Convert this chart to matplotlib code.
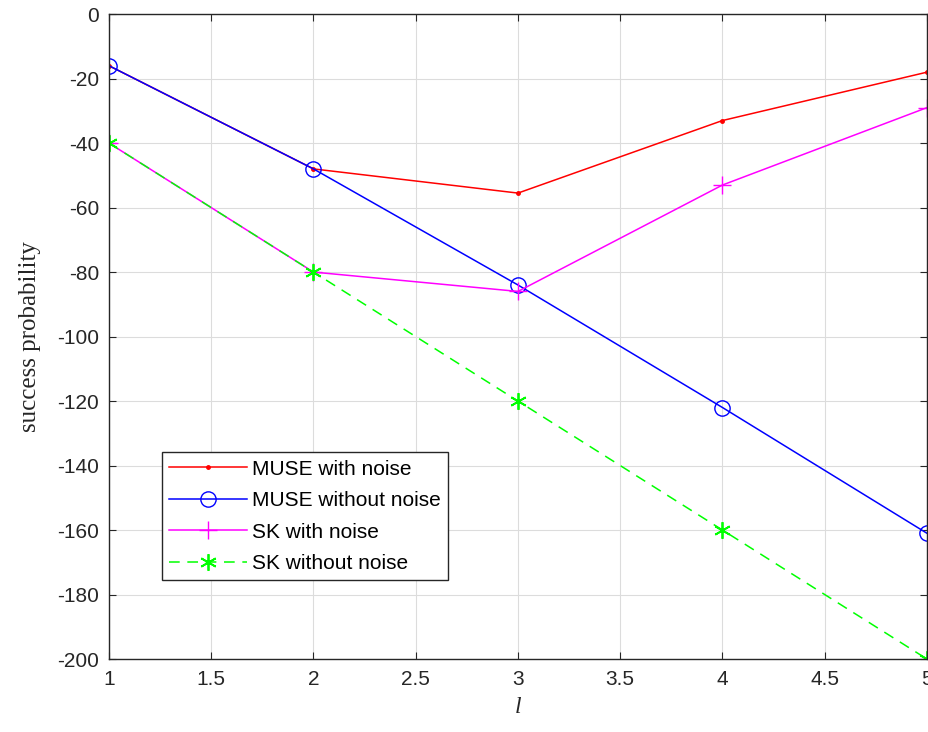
import matplotlib.pyplot as plt

# layer index and success probability (log scale values)
l_vals = [1, 2, 3, 4, 5]
muse_noise = [-16, -48, -55.5, -33, -18]
muse_clean = [-16, -48, -84, -122, -161]
sk_noise = [-40, -80, -86, -53, -29]
sk_clean = [-40, -80, -120, -160, -200]

plt.rcParams['font.family'] = ['Liberation Sans', 'DejaVu Sans']
plt.rcParams['axes.unicode_minus'] = False

fig = plt.figure(figsize=(9.29, 7.32), dpi=100)
ax = fig.add_axes([0.1173, 0.0997, 0.8805, 0.881])

ax.plot(l_vals, muse_noise, '-', color='#ff0000', lw=1.1, marker='.', ms=5,
        label='MUSE with noise')
ax.plot(l_vals, muse_clean, '-', color='#0000ff', lw=1.1, marker='o', ms=11,
        mfc='none', label='MUSE without noise')
ax.plot(l_vals, sk_noise, '-', color='#ff00ff', lw=1.1, marker='+', ms=13,
        label='SK with noise')
ax.plot(l_vals, sk_clean, '--', color='#00ff00', lw=1.1, marker=(6, 2, 0),
        ms=12, mew=1.3, dashes=(7, 5), label='SK without noise')

ax.set_xlim(1, 5)
ax.set_ylim(-200, 0)
ax.set_xticks([1, 1.5, 2, 2.5, 3, 3.5, 4, 4.5, 5])
ax.set_xticklabels(['1', '1.5', '2', '2.5', '3', '3.5', '4', '4.5', '5'])
ax.set_yticks(range(-200, 1, 20))
ax.grid(True, color='#dcdcdc', lw=0.8)
ax.set_axisbelow(True)
ax.tick_params(direction='in', top=True, right=True, labelsize=15,
               colors='#262626', length=5)
ax.tick_params(axis='x', pad=8)
ax.tick_params(axis='y', pad=7)
for s in ax.spines.values():
    s.set_color('#262626')
    s.set_linewidth(1)

ax.set_xlabel('l', fontsize=17, family='Liberation Serif', style='italic',
              labelpad=6, color='#262626')
ax.set_ylabel('success probability', fontsize=18, family='Liberation Serif',
              labelpad=12, color='#262626')

leg = ax.legend(loc='lower left', bbox_to_anchor=(0.065, 0.122), fontsize=15,
                fancybox=False, edgecolor='#262626', framealpha=1,
                borderpad=0.35, labelspacing=0.6, handlelength=3.7,
                handletextpad=0.25, borderaxespad=0)
leg.get_frame().set_linewidth(1)

fig.savefig('out.png', dpi=100)
